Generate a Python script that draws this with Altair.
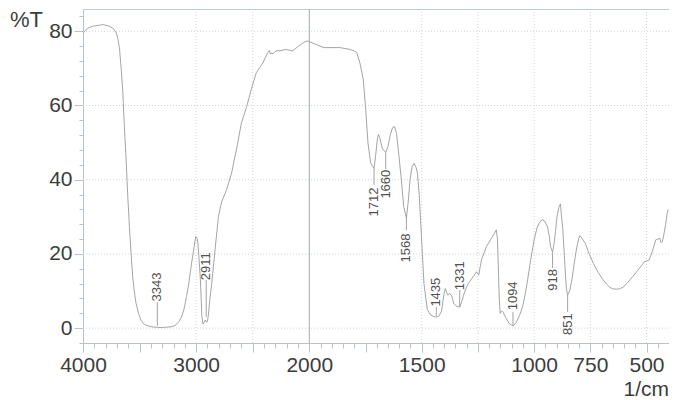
import altair as alt
import pandas as pd

# ---- spectrum ----
wavenumber = [4000, 3960, 3910, 3860, 3825, 3780, 3738, 3706, 3690, 3677, 3660, 3648, 3634, 3619, 3605,
              3590, 3575, 3561, 3545, 3531, 3510, 3488, 3460, 3444, 3400, 3343, 3290, 3250, 3211, 3180,
              3153, 3130, 3109, 3085, 3065, 3045, 3022, 3010, 3002, 2992, 2984, 2975, 2964, 2955, 2949,
              2940, 2930, 2918, 2911, 2900, 2892, 2880, 2862, 2833, 2803, 2774, 2731, 2687, 2644, 2600,
              2556, 2513, 2469, 2410, 2367, 2353, 2345, 2338, 2320, 2294, 2250, 2207, 2175, 2149, 2120,
              2090, 2050, 2017, 2000, 1972, 1935, 1900, 1863, 1819, 1800, 1789, 1775, 1760, 1749, 1739,
              1727, 1712, 1705, 1697, 1692, 1685, 1676, 1660, 1650, 1640, 1630, 1621, 1612, 1604, 1592,
              1580, 1568, 1560, 1552, 1543, 1534, 1525, 1519, 1511, 1505, 1497, 1490, 1475, 1460, 1445,
              1435, 1424, 1412, 1400, 1395, 1388, 1383, 1375, 1365, 1358, 1345, 1331, 1320, 1314, 1300,
              1292, 1271, 1256, 1246, 1240, 1234, 1212, 1190, 1175, 1168, 1163, 1160, 1155, 1151, 1145,
              1139, 1124, 1110, 1094, 1080, 1065, 1051, 1040, 1029, 1015, 1000, 988, 978, 965, 955,
              941, 933, 927, 918, 912, 905, 898, 890, 883, 878, 872, 866, 861, 856, 851,
              842, 832, 825, 817, 808, 798, 790, 773, 755, 737, 715, 693, 675, 664, 650,
              635, 620, 605, 585, 561, 540, 520, 510, 500, 488, 475, 459, 450, 441, 435,
              430, 425, 415, 408, 403]
transmittance = [79.6, 80.8, 81.4, 81.6, 81.8, 81.5, 80.9, 79.6, 77.8, 75.1, 69.0, 63.5, 54.0, 45.4, 36.0,
                 27.4, 20.0, 13.9, 9.5, 6.7, 4.0, 2.2, 1.1, 0.8, 0.4, 0.2, 0.2, 0.3, 0.4, 0.9,
                 1.7, 3.0, 4.9, 8.5, 12.1, 16.5, 21.1, 23.5, 24.7, 24.2, 22.9, 19.0, 13.9, 7.5, 3.1,
                 1.1, 1.6, 2.2, 1.6, 1.8, 3.5, 7.5, 12.1, 21.1, 30.1, 34.1, 37.3, 41.8, 48.1, 55.3,
                 59.4, 64.3, 68.8, 71.5, 74.3, 74.8, 73.9, 74.1, 74.0, 74.7, 74.8, 75.1, 74.9, 74.7, 75.4,
                 76.1, 77.0, 77.4, 77.2, 76.5, 75.6, 75.6, 75.6, 75.1, 74.7, 74.3, 71.5, 67.0, 58.9, 49.9,
                 44.5, 43.0, 46.5, 51.0, 52.2, 51.0, 48.5, 47.3, 49.0, 52.0, 54.0, 54.3, 52.5, 48.0, 40.9,
                 32.8, 29.6, 34.0, 40.0, 43.5, 44.4, 43.3, 41.8, 36.0, 29.0, 20.0, 12.0, 5.0, 3.5, 3.1,
                 3.0, 3.2, 4.6, 9.5, 10.7, 9.5, 8.9, 9.4, 8.5, 6.7, 5.9, 5.7, 7.5, 8.9, 11.2,
                 12.1, 13.9, 15.2, 14.3, 16.5, 18.4, 22.0, 24.2, 25.7, 26.5, 24.0, 18.0, 8.0, 4.0, 4.6,
                 4.4, 2.6, 1.2, 0.6, 1.5, 3.4, 5.8, 9.0, 13.0, 18.5, 23.8, 26.8, 28.3, 29.2, 29.0,
                 27.4, 25.0, 22.0, 20.4, 22.5, 26.0, 30.1, 32.5, 33.5, 30.0, 26.5, 20.0, 14.8, 10.5, 8.9,
                 10.0, 13.0, 16.0, 19.3, 22.5, 24.9, 24.5, 22.9, 20.0, 17.5, 15.0, 13.0, 11.7, 11.0, 10.6,
                 10.5, 10.6, 11.0, 12.2, 13.9, 15.5, 17.0, 17.9, 18.1, 18.4, 20.5, 23.8, 24.0, 24.2, 23.0,
                 23.3, 24.5, 28.0, 31.0, 32.0]

# ---- peak annotations ----
peak_wn = [3343, 2911, 1712, 1660, 1568, 1435, 1331, 1094, 918, 851]
peak_label_T = [11.1, 16.7, 34.0, 38.8, 21.6, 9.7, 14.1, 8.7, 13.0, 1.1]
leader_from_T = [0.6, 3.0, 43.0, 47.2, 29.7, 3.3, 5.7, 0.6, 20.3, 8.9]
leader_to_T = [7.0, 13.0, 38.7, 42.9, 26.4, 5.7, 10.3, 4.4, 16.2, 4.4]

# ---- axes / grid ----
x_major_ticks = [4000, 3500, 3000, 2500, 2000, 1750, 1500, 1250, 1000, 750, 500]
x_tick_labels = [4000, 3000, 2000, 1500, 1000, 750, 500]
x_minor_ticks = list(range(4000, 1999, -100)) + list(range(1950, 399, -50))
x_dotted_grid = [3000, 2500, 1500, 1250, 1000, 750, 500]
x_solid_grid = [2000]
y_major_ticks = [0, 20, 40, 60, 80]
y_minor_ticks = list(range(-4, 85, 4))

FONT = "Liberation Sans"
AXC = "#b8c2c9"
TXT = "#3c3c3c"

curve = pd.DataFrame({"wn": wavenumber, "T": transmittance})
peaks = pd.DataFrame({"wn": peak_wn, "lab": [str(p) for p in peak_wn], "ty": peak_label_T,
                      "l1": leader_from_T, "l2": leader_to_T})

W, H = 586, 334
xs = alt.Scale(domain=[4000, 2000, 400], range=[0, 226.3, W], nice=False, zero=False)
ys = alt.Scale(domain=[-4, 86], nice=False, zero=False)

label_list = ",".join(str(v) for v in x_tick_labels)
x_major_axis = alt.Axis(orient="bottom", values=x_major_ticks, tickSize=9, tickColor=AXC,
                        domain=False, grid=False, title=None, labelFont=FONT, labelFontSize=21,
                        labelColor=TXT, labelPadding=2, labelFlush=False, labelOverlap=False,
                        labelExpr=f"indexof([{label_list}], datum.value) >= 0 ? '' + datum.value : ''")
x_minor_axis = alt.Axis(orient="bottom", values=x_minor_ticks, tickSize=5, tickColor=AXC,
                        domain=True, domainColor=AXC, labels=False, grid=False, title=None)
y_major_axis = alt.Axis(orient="left", values=y_major_ticks, tickSize=9, tickColor=AXC,
                        domain=False, grid=False, title=None, labelFont=FONT, labelFontSize=21,
                        labelColor=TXT, labelPadding=2, format="d")
y_minor_axis = alt.Axis(orient="left", values=y_minor_ticks, tickSize=4, tickColor=AXC,
                        domain=True, domainColor=AXC, labels=False, grid=False, title=None)

grid_v = alt.Chart(pd.DataFrame({"g": x_dotted_grid})).mark_rule(
    color="#cdd5da", strokeDash=[1, 2], strokeWidth=1).encode(x=alt.X("g:Q", scale=xs, axis=None))
grid_v2 = alt.Chart(pd.DataFrame({"g": x_solid_grid})).mark_rule(
    color="#a3acb2", strokeWidth=1).encode(x=alt.X("g:Q", scale=xs, axis=None))
grid_h = alt.Chart(pd.DataFrame({"g": y_major_ticks})).mark_rule(
    color="#cdd5da", strokeDash=[1, 2], strokeWidth=1).encode(y=alt.Y("g:Q", scale=ys, axis=None))

minor = alt.Chart(curve).mark_line(opacity=0).encode(
    x=alt.X("wn:Q", scale=xs, axis=x_minor_axis),
    y=alt.Y("T:Q", scale=ys, axis=y_minor_axis))

line = alt.Chart(curve).mark_line(color="#9a9a9a", strokeWidth=0.9).encode(
    x=alt.X("wn:Q", scale=xs, axis=x_major_axis),
    y=alt.Y("T:Q", scale=ys, axis=y_major_axis))

leaders = alt.Chart(peaks).mark_rule(color="#999999", strokeWidth=0.9).encode(
    x=alt.X("wn:Q", scale=xs, axis=None),
    y=alt.Y("l1:Q", scale=ys, axis=None), y2="l2:Q")

labels = alt.Chart(peaks).mark_text(angle=270, align="center", baseline="middle",
                                    font=FONT, fontSize=13, color="#505050").encode(
    x=alt.X("wn:Q", scale=xs, axis=None),
    y=alt.Y("ty:Q", scale=ys, axis=None), text="lab:N")

ylab = alt.Chart(pd.DataFrame({"t": ["%T"]})).mark_text(
    align="left", baseline="alphabetic", font=FONT, fontSize=22, color=TXT).encode(
    x=alt.value(-73), y=alt.value(18), text="t:N")
xlab = alt.Chart(pd.DataFrame({"t": ["1/cm"]})).mark_text(
    align="right", baseline="alphabetic", font=FONT, fontSize=21, color=TXT).encode(
    x=alt.value(W), y=alt.value(387), text="t:N")

chart = alt.layer(grid_v, grid_v2, grid_h, minor, line, leaders, labels, ylab, xlab).resolve_axis(
    x="independent", y="independent"
).properties(
    width=W, height=H,
    padding={"left": 75, "top": 1, "right": 0, "bottom": 56},
    autosize=alt.AutoSizeParams(type="none"),
    background="white",
).configure_view(stroke="#c3ccd2", strokeWidth=1)

chart.save("out.html", embed_options={"renderer": "svg", "actions": False})
